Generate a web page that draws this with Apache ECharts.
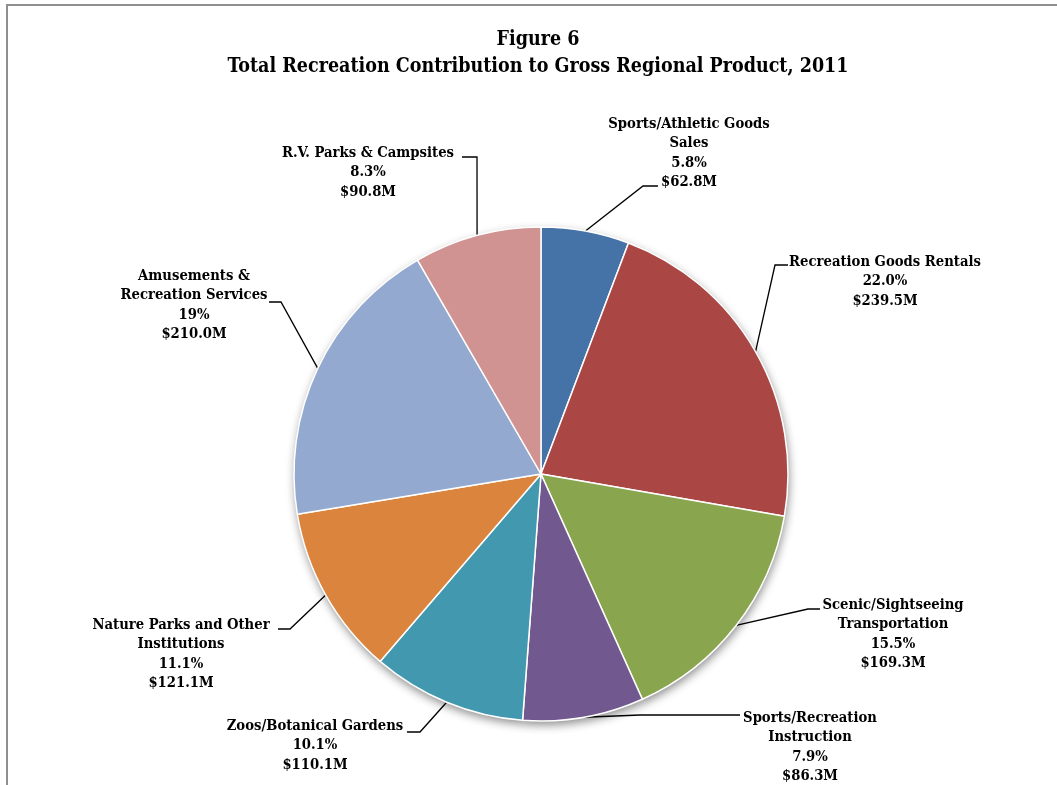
<!DOCTYPE html>
<html>
<head>
<meta charset="utf-8">
<script src="https://cdn.jsdelivr.net/npm/echarts@6/dist/echarts.min.js"></script>
<style>
  html, body { margin: 0; padding: 0; background: #ffffff; }
  #chart { width: 1057px; height: 785px; }
</style>
</head>
<body>
<div id="chart"></div>
<script>
// Recreation sectors and their contribution (millions of dollars)
const categories = [
  'Sports/Athletic Goods\nSales',
  'Recreation Goods Rentals',
  'Scenic/Sightseeing\nTransportation',
  'Sports/Recreation\nInstruction',
  'Zoos/Botanical Gardens',
  'Nature Parks and Other\nInstitutions',
  'Amusements &\nRecreation Services',
  'R.V. Parks & Campsites'
];
const values = [62.8, 239.5, 169.3, 86.3, 110.1, 121.1, 210.0, 90.8];
const shareLabels = ['5.8%', '22.0%', '15.5%', '7.9%', '10.1%', '11.1%', '19%', '8.3%'];

const sliceColors = ['#4572A7', '#AA4643', '#89A54E', '#71588F', '#4198AF', '#DB843D', '#93A9CF', '#D19392'];

// Label block placement: centre x / top y of the text, then leader elbow and end point
const labelPlacement = [
  { x: 689, y: 114, elbow: [643, 186], end: [658, 186] },
  { x: 885, y: 252, elbow: [775, 265], end: [788, 265] },
  { x: 893, y: 595, elbow: [808, 609], end: [820, 609] },
  { x: 810, y: 708, elbow: [640, 715], end: [740, 715] },
  { x: 315, y: 716, elbow: [420, 732], end: [407, 732] },
  { x: 181, y: 615, elbow: [290, 629], end: [278, 629] },
  { x: 194, y: 266, elbow: [281, 302], end: [269, 302] },
  { x: 368, y: 143, elbow: [477, 157], end: [462, 157] }
];

const PIE_CENTER = [541, 474];
const PIE_RADIUS = 247;
const FONT = '"DejaVu Serif Condensed", "DejaVu Serif", serif';

const pieData = categories.map((name, i) => ({
  name: name,
  value: values[i],
  itemStyle: { color: sliceColors[i] }
}));

const total = values.reduce((a, b) => a + b, 0);
function rimPoint(idx) {
  let before = 0;
  for (let i = 0; i < idx; i++) before += values[i];
  const mid = ((before + values[idx] / 2) / total) * Math.PI * 2;
  return [PIE_CENTER[0] + PIE_RADIUS * Math.sin(mid), PIE_CENTER[1] - PIE_RADIUS * Math.cos(mid)];
}

const chart = echarts.init(document.getElementById('chart'), null, { renderer: 'canvas' });

chart.setOption({
  backgroundColor: '#ffffff',
  animation: false,
  title: {
    text: 'Figure 6\nTotal Recreation Contribution to Gross Regional Product, 2011',
    left: 538,
    top: 26,
    padding: 0,
    textAlign: 'center',
    textStyle: {
      fontFamily: FONT,
      fontWeight: 'bold',
      fontSize: 19.5,
      lineHeight: 27,
      color: '#000000'
    }
  },
  graphic: [
    {
      type: 'rect',
      silent: true,
      shape: { x: 7, y: 5, width: 1200, height: 1000 },
      style: { fill: 'none', stroke: '#8f8f8f', lineWidth: 2 }
    }
  ],
  series: [
    {
      // soft drop shadow beneath the pie
      type: 'pie',
      silent: true,
      z: 1,
      center: PIE_CENTER,
      radius: PIE_RADIUS,
      startAngle: 90,
      clockwise: true,
      label: { show: false },
      labelLine: { show: false },
      itemStyle: {
        color: '#ffffff',
        shadowBlur: 10,
        shadowColor: 'rgba(0,0,0,0.45)',
        shadowOffsetX: 1,
        shadowOffsetY: 4
      },
      emphasis: { disabled: true },
      data: values.map((v) => ({ value: v }))
    },
    {
      type: 'pie',
      z: 2,
      center: PIE_CENTER,
      radius: PIE_RADIUS,
      startAngle: 90,
      clockwise: true,
      avoidLabelOverlap: false,
      itemStyle: { borderColor: '#ffffff', borderWidth: 1.5 },
      emphasis: { disabled: true },
      label: {
        show: true,
        position: 'outside',
        overflow: 'none',
        fontFamily: FONT,
        fontWeight: 'bold',
        fontSize: 14.7,
        lineHeight: 19.6,
        color: '#000000',
        align: 'center',
        formatter: (p) => p.name + '\n' + shareLabels[p.dataIndex] + '\n$' + values[p.dataIndex].toFixed(1) + 'M'
      },
      labelLine: {
        show: true,
        length: 20,
        length2: 10,
        lineStyle: { color: '#000000', width: 1.3 }
      },
      labelLayout: function (params) {
        const p = labelPlacement[params.dataIndex];
        const pts = params.labelLinePoints;
        const start = pts && pts.length ? pts[0] : rimPoint(params.dataIndex);
        return {
          x: p.x,
          y: p.y,
          align: 'center',
          verticalAlign: 'top',
          labelLinePoints: [start, p.elbow, p.end]
        };
      },
      data: pieData
    }
  ]
});
</script>
</body>
</html>
